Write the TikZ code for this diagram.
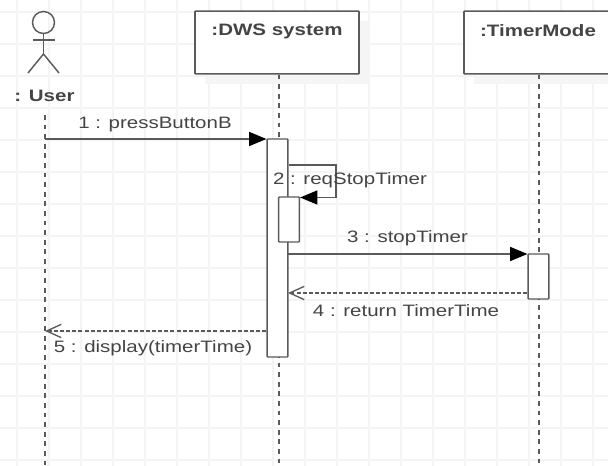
\documentclass[tikz,border=0pt]{standalone}
\usepackage{fontspec}
\setmainfont{Liberation Sans}
\newfontfamily\wideface[FakeStretch=1.24]{Liberation Sans}
\usetikzlibrary{arrows.meta}

\definecolor{gridcol}{HTML}{F4F4F4}
\definecolor{shadecol}{HTML}{F5F5F5}
\definecolor{linecol}{HTML}{5A5A5A}
\definecolor{textcol}{HTML}{444444}

\tikzset{every picture/.style={line width=0.75pt}}
\tikzset{
  lifebox/.style={draw=linecol,fill=white,line width=1.2pt,rounded corners=0.5pt,minimum height=47pt,inner sep=0pt},
  shadebox/.style={fill=shadecol,minimum height=47pt,inner sep=0pt},
  actbox/.style={draw=linecol,fill=white,line width=1.1pt,rounded corners=0.5pt,minimum width=15.5pt,inner sep=0pt},
  lifeline/.style={draw=linecol,line width=1.1pt,dash pattern=on 3.6pt off 3.6pt},
  callmsg/.style={draw=linecol,line width=1.1pt,-{Triangle[length=13pt,width=10.5pt,color=black]}},
  retmsg/.style={draw=linecol,line width=1pt,dash pattern=on 3pt off 1.6pt,-{Straight Barb[length=11pt,width=10pt]}},
  msgtext/.style={text=textcol,font=\wideface\fontsize{12.4}{14}\selectfont,inner sep=0pt},
  headtext/.style={text=textcol,font=\wideface\fontsize{12.4}{14}\selectfont\bfseries,inner sep=0pt}
}

\begin{document}
\begin{tikzpicture}[x=0.75pt,y=0.75pt,yscale=-1,xscale=1]
		\clip (0,0) rectangle (608,466);

		% Grid
		\foreach \gx in {17,49,...,593} \draw[gridcol,line width=0.9pt] (\gx,0) -- (\gx,466);
		\foreach \gy in {12,44,...,460} \draw[gridcol,line width=0.9pt] (0,\gy) -- (608,\gy);

		% Shadows
		\node[shadebox,minimum width=123pt] (dwsshade) at (287,52.5) {};
		\node[shadebox,minimum width=123pt] (timershade) at (556,52.5) {};

		% Free ends
		\coordinate (userTop) at (45,115);
		\coordinate (userEnd) at (45,466);
		\coordinate (dwsEnd) at (279,466);
		\coordinate (timerEnd) at (539,466);
		\coordinate (msgOne) at (45,139);
		\coordinate (msgThree) at (288,254);
		\coordinate (msgFour) at (288,293);
		\coordinate (msgFive) at (45,331);
		\coordinate (selfA) at (336,165);
		\coordinate (selfB) at (336,197.5);

		% Lifeline heads
		\node[lifebox,minimum width=123pt] (dwsBox) at (277,42.5) {};
		\node[lifebox,minimum width=123pt] (timerBox) at (546,42.5) {};

		% Lifelines
		\draw[lifeline] (userTop) -- (userEnd);
		\draw[lifeline] (dwsBox.south -| dwsEnd) -- (dwsEnd);
		\draw[lifeline] (timerBox.south -| timerEnd) -- (timerEnd);

		% Actor
		\node[circle,draw=linecol,line width=1.1pt,minimum size=16.5pt,inner sep=0pt] (userHead) at (43.5,22.5) {};
		\coordinate (userHip) at (43.5,54);
		\coordinate (armL) at (32.5,40);
		\coordinate (armR) at (54.5,40);
		\coordinate (legL) at (28,73);
		\coordinate (legR) at (59,73);
		\draw[draw=linecol,line width=1.1pt] (userHead.south) -- (userHip);
		\draw[draw=linecol,line width=1.1pt] (armL) -- (armR);
		\draw[draw=linecol,line width=1.1pt] (legL) -- (userHip) -- (legR);

		% Activations
		\node[actbox,minimum height=163.5pt] (dwsAct) at (277.5,248) {};
		\node[actbox,minimum height=33.75pt] (reqAct) at (289,219.5) {};
		\node[actbox,minimum height=33.75pt] (timerAct) at (538.5,276.5) {};

		% Messages
		\draw[callmsg] (msgOne) -- (dwsAct.north west |- msgOne);
		\draw[callmsg] (dwsAct.east |- selfA) -- (selfA) -- (selfB) -- (reqAct.east |- selfB);
		\draw[callmsg] (msgThree) -- (timerAct.north west |- msgThree);
		\draw[retmsg] (timerAct.west |- msgFour) -- (msgFour);
		\draw[retmsg] (dwsAct.west |- msgFive) -- (msgFive);

		% Text Node
		\node[headtext] (userLabel) at (44.5,96) {: User};
		\node[headtext] (dwsLabel) at (277,31) {:DWS system};
		\node[headtext] (timerLabel) at (538,31) {:TimerMode};
		\node[msgtext] (pressLabel) at (155,124.5) {1 : pressButtonB};
		\node[msgtext] (reqLabel) at (350,180) {2 : reqStopTimer};
		\node[msgtext] (stopLabel) at (407.5,238) {3 : stopTimer};
		\node[msgtext] (returnLabel) at (406,311) {4 : return TimerTime};
		\node[msgtext] (displayLabel) at (153,348) {5 : display(timerTime)};
\end{tikzpicture}
\end{document}
